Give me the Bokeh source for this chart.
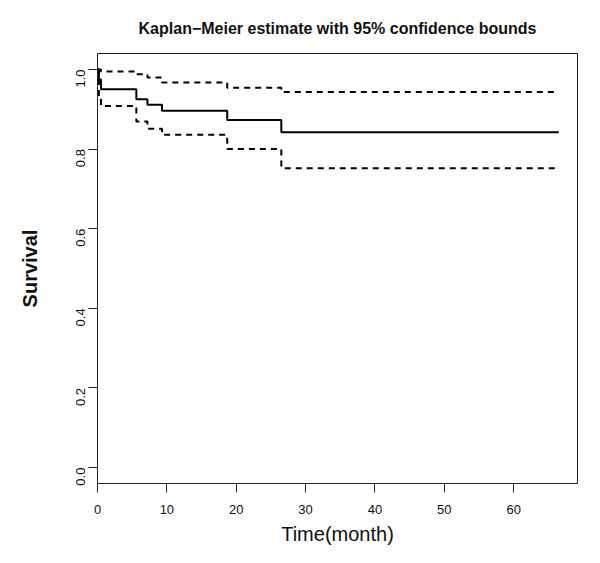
import math
from bokeh.plotting import figure
from bokeh.models import Range1d, FixedTicker
from bokeh.embed import file_html
from bokeh.resources import INLINE

# Kaplan-Meier estimate (step function) with 95% confidence bounds
time_month = [0, 0.2, 0.5, 5.6, 7.2, 9.3, 18.7, 26.5, 66.5]
survival = [1.0, 0.975, 0.95, 0.925, 0.911, 0.896, 0.873, 0.842, 0.842]
upper_ci = [1.0, 1.0, 0.995, 0.988, 0.980, 0.967, 0.954, 0.943, 0.943]
lower_ci = [1.0, 0.93, 0.908, 0.869, 0.851, 0.836, 0.800, 0.752, 0.752]

x_ticks = [0, 10, 20, 30, 40, 50, 60]
y_ticks = [0.0, 0.2, 0.4, 0.6, 0.8, 1.0]

TITLE = "Kaplan\u2212Meier estimate with 95% confidence bounds"
FONT = "Liberation Sans"

p = figure(width=584, height=547, output_backend="svg", toolbar_location=None,
           x_range=Range1d(0, 69.2), y_range=Range1d(-0.04, 1.04),
           min_border_left=97, min_border_right=7, min_border_top=53,
           min_border_bottom=64)

p.title.text = TITLE
p.title.align = "center"
p.title.text_font = FONT
p.title.text_font_size = "16px"
p.title.text_font_style = "bold"
p.title.text_color = "#111111"
p.title.standoff = 34

p.step(time_month, survival, mode="after", line_color="black", line_width=2)
p.step(time_month, upper_ci, mode="after", line_color="black", line_width=2,
       line_dash="6 5")
p.step(time_month, lower_ci, mode="after", line_color="black", line_width=2,
       line_dash="6 5")

p.grid.visible = False
p.outline_line_color = "#222222"
p.outline_line_width = 1
p.outline_line_alpha = 1

for ax in (p.xaxis[0], p.yaxis[0]):
    ax.axis_line_color = None
    ax.major_tick_out = 9
    ax.major_tick_in = 0
    ax.minor_tick_out = 0
    ax.minor_tick_in = 0
    ax.major_tick_line_color = "#222222"
    ax.major_label_text_font = FONT
    ax.major_label_text_font_size = "13px"
    ax.major_label_text_color = "#111111"
    ax.axis_label_text_font = FONT
    ax.axis_label_text_font_size = "20px"
    ax.axis_label_text_color = "#111111"

p.xaxis[0].ticker = FixedTicker(ticks=x_ticks)
p.xaxis[0].axis_label = "Time(month)"
p.xaxis[0].axis_label_text_font_style = "normal"
p.xaxis[0].major_label_standoff = 12
p.xaxis[0].axis_label_standoff = 6

p.yaxis[0].ticker = FixedTicker(ticks=y_ticks)
p.yaxis[0].major_label_overrides = {t: f"{t:.1f}" for t in y_ticks}
p.yaxis[0].major_label_orientation = math.pi / 2
p.yaxis[0].axis_label = "Survival"
p.yaxis[0].axis_label_text_font_style = "bold"
p.yaxis[0].major_label_standoff = 8
p.yaxis[0].axis_label_standoff = 28

open("out.html", "w").write(file_html(p, INLINE))
